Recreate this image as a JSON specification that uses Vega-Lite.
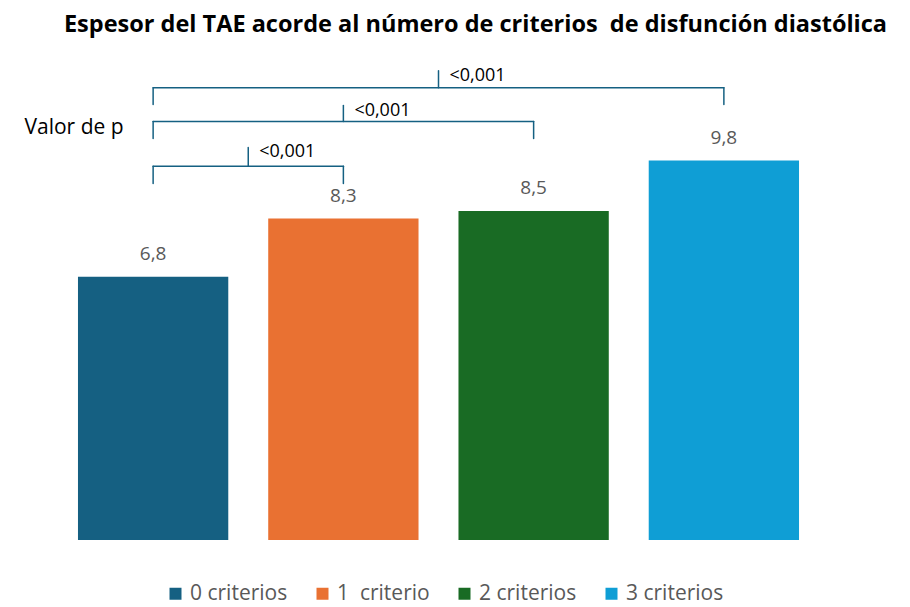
{
  "$schema": "https://vega.github.io/schema/vega-lite/v6.json",
  "autosize": "none",
  "padding": {"left": 58, "top": 56, "right": 91, "bottom": 67},
  "width": 761,
  "height": 484,
  "background": "white",
  "title": {
    "text": "Espesor del TAE acorde al número de criterios\u00a0 de disfunción diastólica",
    "font": "Open Sans",
    "fontSize": 23.5,
    "fontWeight": "bold",
    "color": "#000000",
    "anchor": "middle",
    "frame": "group",
    "dx": 37,
    "baseline": "alphabetic",
    "offset": 1
  },
  "datasets": {
    "grupos": [
      {"grupo": "0 criterios", "tae": 6.8},
      {"grupo": "1\u00a0 criterio", "tae": 8.3},
      {"grupo": "2 criterios", "tae": 8.5},
      {"grupo": "3 criterios", "tae": 9.8}
    ],
    "comparaciones": [
      {"comparacion": "0 vs 1", "desde": 0, "hasta": 1, "base": 9.21, "nivel": 9.65, "pico": 10.14, "p": "<0,001"},
      {"comparacion": "0 vs 2", "desde": 0, "hasta": 2, "base": 10.37, "nivel": 10.81, "pico": 11.22, "p": "<0,001"},
      {"comparacion": "0 vs 3", "desde": 0, "hasta": 3, "base": 11.25, "nivel": 11.68, "pico": 12.12, "p": "<0,001"}
    ]
  },
  "layer": [
    {
      "data": {"name": "grupos"},
      "encoding": {
        "x": {
          "field": "grupo",
          "type": "nominal",
          "sort": null,
          "scale": {"paddingInner": 0.21, "paddingOuter": 0.105}
        },
        "y": {
          "field": "tae",
          "type": "quantitative",
          "title": "Valor de p",
          "scale": {"domain": [0, 12.5], "nice": false}
        }
      },
      "layer": [
        {
          "mark": {"type": "bar"},
          "encoding": {
            "color": {
              "field": "grupo",
              "type": "nominal",
              "sort": null,
              "scale": {
                "domain": ["0 criterios", "1\u00a0 criterio", "2 criterios", "3 criterios"],
                "range": ["#156082", "#E97132", "#196B24", "#0F9ED5"]
              },
              "legend": {
                "orient": "none",
                "direction": "horizontal",
                "legendX": 107,
                "legendY": 527,
                "title": null
              }
            }
          }
        },
        {
          "mark": {
            "type": "text",
            "baseline": "alphabetic",
            "dy": -17,
            "font": "Open Sans",
            "fontSize": 19,
            "color": "#595959"
          },
          "encoding": {
            "text": {"field": "tae", "type": "quantitative", "format": ".1f"}
          }
        }
      ]
    },
    {
      "data": {"name": "comparaciones"},
      "transform": [{"calculate": "(datum.desde + datum.hasta) / 2", "as": "medio"}],
      "layer": [
        {
          "mark": {"type": "rule", "color": "#156082", "strokeWidth": 1.5, "strokeCap": "round"},
          "encoding": {
            "x": {"field": "desde", "type": "quantitative", "scale": {"domain": [-0.5, 3.5], "nice": false, "zero": false}},
            "y": {"field": "base", "type": "quantitative", "title": "Valor de p", "scale": {"domain": [0, 12.5], "nice": false}},
            "y2": {"field": "nivel"}
          }
        },
        {
          "mark": {"type": "rule", "color": "#156082", "strokeWidth": 1.5, "strokeCap": "round"},
          "encoding": {
            "x": {"field": "hasta", "type": "quantitative"},
            "y": {"field": "base", "type": "quantitative", "title": "Valor de p"},
            "y2": {"field": "nivel"}
          }
        },
        {
          "mark": {"type": "rule", "color": "#156082", "strokeWidth": 1.5, "strokeCap": "round"},
          "encoding": {
            "x": {"field": "desde", "type": "quantitative"},
            "x2": {"field": "hasta"},
            "y": {"field": "nivel", "type": "quantitative", "title": "Valor de p"}
          }
        },
        {
          "mark": {"type": "rule", "color": "#156082", "strokeWidth": 1.5, "strokeCap": "round"},
          "encoding": {
            "x": {"field": "medio", "type": "quantitative"},
            "y": {"field": "nivel", "type": "quantitative", "title": "Valor de p"},
            "y2": {"field": "pico"}
          }
        },
        {
          "mark": {
            "type": "text",
            "align": "left",
            "baseline": "middle",
            "dx": 11,
            "dy": 5,
            "font": "Open Sans",
            "fontSize": 18,
            "color": "#000000"
          },
          "encoding": {
            "x": {"field": "medio", "type": "quantitative"},
            "y": {"field": "pico", "type": "quantitative", "title": "Valor de p"},
            "text": {"field": "p"}
          }
        }
      ]
    }
  ],
  "resolve": {"scale": {"x": "independent"}},
  "config": {
    "locale": {"number": {"decimal": ",", "thousands": ".", "grouping": [3], "currency": ["", " €"]}},
    "view": {"stroke": null},
    "axisX": {"disable": true},
    "axisY": {
      "domain": false,
      "ticks": false,
      "labels": false,
      "grid": false,
      "title": "Valor de p",
      "titleAngle": 0,
      "titleAlign": "left",
      "titleBaseline": "alphabetic",
      "titleX": -34,
      "titleY": 77,
      "titleFont": "Open Sans",
      "titleFontSize": 21,
      "titleFontWeight": "normal",
      "titleColor": "#000000"
    },
    "legend": {
      "symbolType": "square",
      "symbolSize": 144,
      "symbolStrokeWidth": 0,
      "labelFont": "Open Sans",
      "labelFontSize": 21,
      "labelColor": "#595959",
      "labelOffset": 4,
      "columnPadding": 24,
      "labelLimit": 300
    }
  }
}
